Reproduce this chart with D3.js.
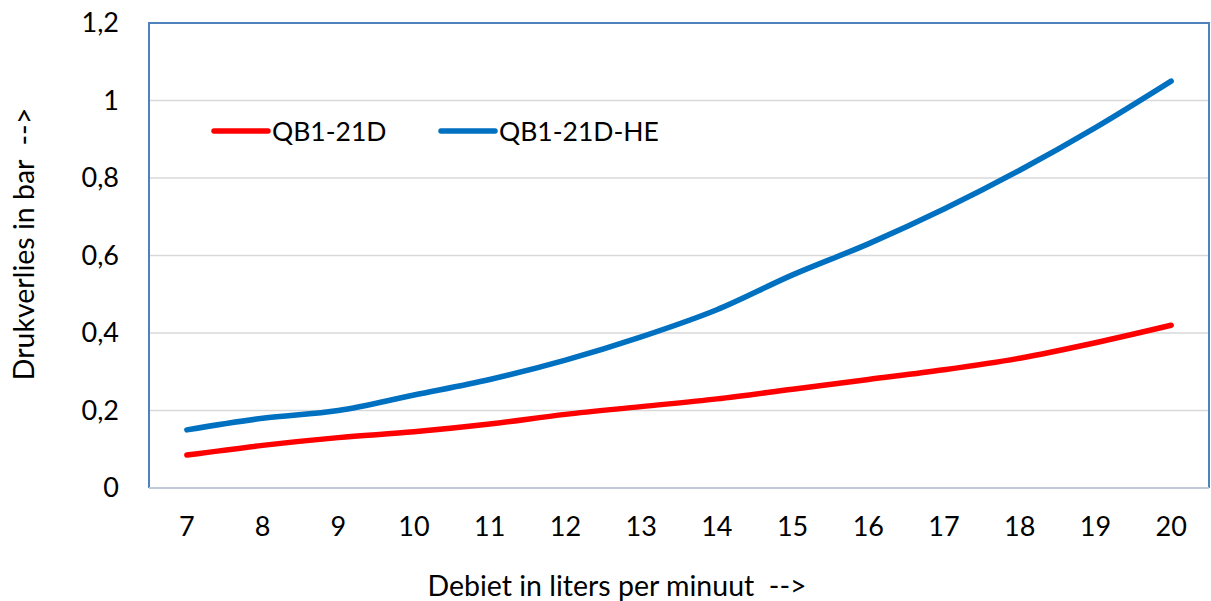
<!DOCTYPE html>
<meta charset="utf-8" />
<script src="https://d3js.org/d3.v7.min.js"></script>
<style>
  body { margin: 0; background: #fff; }
  text { font-family: Lato, "Open Sans", sans-serif; fill: #000; }
</style>
<body>
<div id="chart"></div>
<script>
  // data
  var flows = [7, 8, 9, 10, 11, 12, 13, 14, 15, 16, 17, 18, 19, 20];
  var qb1 = [0.085, 0.11, 0.13, 0.145, 0.165, 0.19, 0.21, 0.23, 0.255, 0.28, 0.305, 0.335, 0.375, 0.42];
  var qb1He = [0.15, 0.18, 0.20, 0.24, 0.28, 0.33, 0.39, 0.46, 0.55, 0.63, 0.72, 0.82, 0.93, 1.05];
  var yTicks = [0, 0.2, 0.4, 0.6, 0.8, 1, 1.2];
  var seriesNames = ["QB1-21D", "QB1-21D-HE"];
  var seriesColors = ["#ff0000", "#0070c0"];

  var W = 1211, H = 601;
  var margin = { top: 23, right: 2, bottom: 113, left: 149 },
    width = W - margin.left - margin.right,
    height = H - margin.top - margin.bottom;

  var svg = d3.select("#chart").append("svg")
    .attr("width", W).attr("height", H);
  var g = svg.append("g")
    .attr("transform", "translate(" + margin.left + "," + margin.top + ")");

  var x = d3.scaleBand().domain(flows).range([0, width]);
  var y = d3.scaleLinear().domain([0, 1.2]).range([height, 0]);

  // gridlines
  g.append("g").selectAll("line")
    .data(yTicks.filter(function(d) { return d > 0 && d < 1.2; }))
    .enter().append("line")
    .attr("x1", 0).attr("x2", width)
    .attr("y1", function(d) { return y(d); })
    .attr("y2", function(d) { return y(d); })
    .attr("stroke", "#d9d9d9").attr("stroke-width", 1.5);

  // plot border
  g.append("path")
    .attr("d", "M0," + height + "V0H" + width + "V" + height)
    .attr("fill", "none").attr("stroke", "#4f81bd").attr("stroke-width", 2);
  g.append("line")
    .attr("x1", 0).attr("x2", width).attr("y1", height).attr("y2", height)
    .attr("stroke", "#bfc9da").attr("stroke-width", 2);

  // y axis labels
  var fmt = function(d) { return String(d).replace(".", ","); };
  var yAxis = g.append("g")
    .call(d3.axisLeft(y).tickValues(yTicks).tickFormat(fmt).tickSize(0).tickPadding(30));
  yAxis.select(".domain").remove();
  yAxis.selectAll("text").style("font-size", "27px").attr("font-family", null);

  // x axis labels
  var xAxis = g.append("g")
    .attr("transform", "translate(0," + height + ")")
    .call(d3.axisBottom(x).tickSize(0).tickPadding(29));
  xAxis.select(".domain").remove();
  xAxis.selectAll("text").style("font-size", "27px").attr("font-family", null);

  // lines
  var line = d3.line()
    .x(function(d, i) { return x(flows[i]) + x.bandwidth() / 2; })
    .y(function(d) { return y(d); })
    .curve(d3.curveMonotoneX);

  [qb1, qb1He].forEach(function(s, i) {
    g.append("path")
      .datum(s)
      .attr("d", line)
      .attr("fill", "none")
      .attr("stroke", seriesColors[i])
      .attr("stroke-width", 5.5)
      .attr("stroke-linecap", "round")
      .attr("stroke-linejoin", "round");
  });

  // legend
  var legendX = [214, 441];
  seriesNames.forEach(function(name, i) {
    svg.append("line")
      .attr("x1", legendX[i]).attr("x2", legendX[i] + 54)
      .attr("y1", 131).attr("y2", 131)
      .attr("stroke", seriesColors[i]).attr("stroke-width", 5.5)
      .attr("stroke-linecap", "round");
    svg.append("text")
      .attr("x", legendX[i] + 58).attr("y", 131)
      .attr("dy", "0.36em")
      .style("font-size", "26.5px")
      .text(name);
  });

  // axis titles
  svg.append("text")
    .attr("x", 617).attr("y", 596)
    .attr("text-anchor", "middle")
    .style("font-size", "28.5px")
    .attr("xml:space", "preserve")
    .text("Debiet in liters per minuut  -->");

  svg.append("text")
    .attr("transform", "translate(34,244) rotate(-90)")
    .attr("text-anchor", "middle")
    .style("font-size", "28.5px")
    .attr("xml:space", "preserve")
    .text("Drukverlies in bar  -->");
</script>
</body>
